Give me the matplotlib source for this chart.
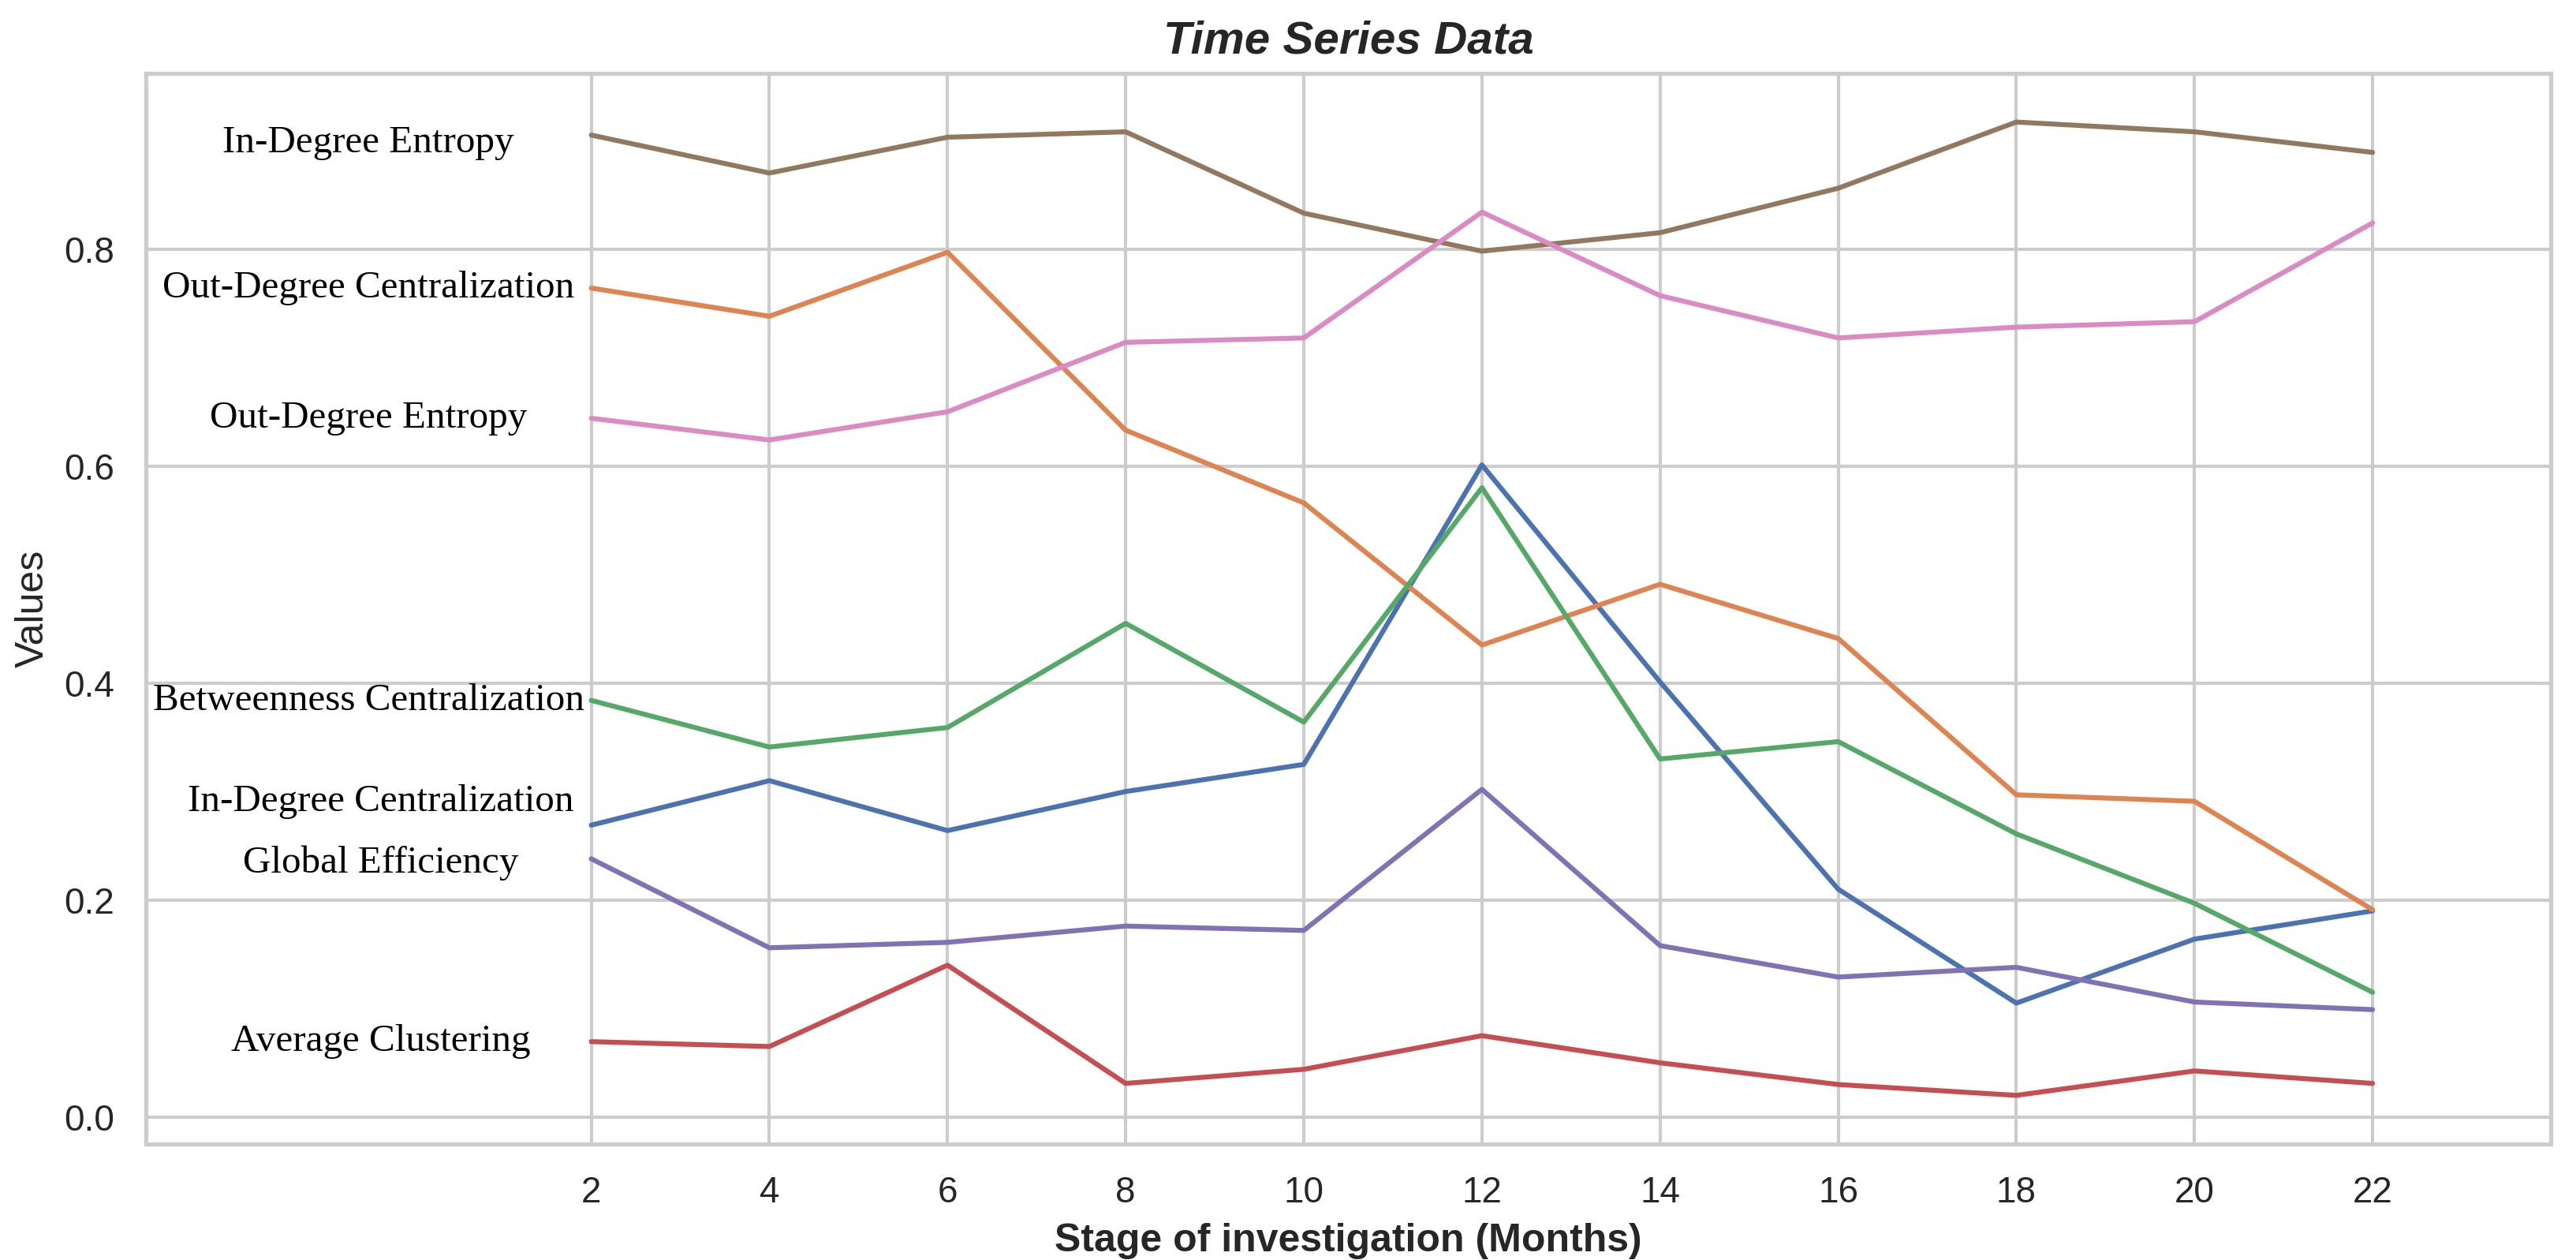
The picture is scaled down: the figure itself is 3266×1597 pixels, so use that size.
import matplotlib
matplotlib.use("Agg")
import matplotlib.pyplot as plt
import seaborn as sns

# stage of investigation (months)
months = [2, 4, 6, 8, 10, 12, 14, 16, 18, 20, 22]

in_degree_centralization = [0.269, 0.310, 0.264, 0.300, 0.325, 0.601, 0.401, 0.210, 0.105, 0.164, 0.190]
out_degree_centralization = [0.764, 0.738, 0.797, 0.633, 0.566, 0.435, 0.491, 0.441, 0.297, 0.291, 0.191]
betweenness_centralization = [0.384, 0.341, 0.359, 0.455, 0.364, 0.580, 0.330, 0.346, 0.261, 0.197, 0.115]
average_clustering = [0.0695, 0.065, 0.140, 0.031, 0.044, 0.075, 0.050, 0.030, 0.020, 0.0425, 0.031]
global_efficiency = [0.238, 0.156, 0.161, 0.176, 0.172, 0.302, 0.158, 0.129, 0.138, 0.106, 0.099]
in_degree_entropy = [0.905, 0.870, 0.903, 0.908, 0.833, 0.798, 0.815, 0.856, 0.917, 0.908, 0.889]
out_degree_entropy = [0.644, 0.624, 0.650, 0.714, 0.718, 0.834, 0.757, 0.718, 0.728, 0.733, 0.824]

series_names = [
    "In-Degree Centralization",
    "Out-Degree Centralization",
    "Betweenness Centralization",
    "Average Clustering",
    "Global Efficiency",
    "In-Degree Entropy",
    "Out-Degree Entropy",
]
series_values = [
    in_degree_centralization,
    out_degree_centralization,
    betweenness_centralization,
    average_clustering,
    global_efficiency,
    in_degree_entropy,
    out_degree_entropy,
]

sns.set_theme(style="whitegrid")
plt.rcParams["font.family"] = ["Liberation Sans", "DejaVu Sans"]

palette = sns.color_palette("deep")

fig = plt.figure(figsize=(3266 / 300, 1597 / 300), dpi=300)
ax = fig.add_axes([0.05664, 0.09205, 0.93356, 0.84972])

# label placement next to the first point (nudges to avoid overlap)
label_dx = [0.14, 0.0, 0.0, 0.14, 0.14, 0.0, 0.0]
label_dy = [0.022, 0.0, 0.0, 0.0, -0.004, -0.007, 0.0]

for i, (name, vals) in enumerate(zip(series_names, series_values)):
    ax.plot(months, vals, color=palette[i], linewidth=1.5, label=name)
    ax.text(months[0] - 2.5 + label_dx[i], vals[0] + label_dy[i], name,
            ha="center", va="center", fontsize=11.8,
            family="Liberation Serif", color="black")

ax.set_xlim(-3, 24)
ax.set_xticks(months)
ax.tick_params(axis="both", labelsize=11)
ax.set_title("Time Series Data", fontsize=14, fontweight="bold", fontstyle="italic")
ax.set_xlabel("Stage of investigation (Months)", fontsize=12, fontweight="bold")
ax.set_ylabel("Values", fontsize=12)

fig.savefig("out.png", dpi=300)
